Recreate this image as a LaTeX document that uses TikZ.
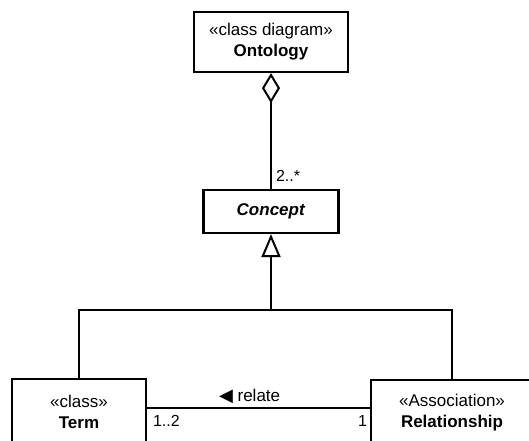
\documentclass[tikz,border=0pt]{standalone}
\usepackage{fontspec}
\setmainfont{Liberation Sans}
\newfontfamily\symfont{DejaVu Sans}
\usetikzlibrary{arrows.meta}

\begin{document}
\begin{tikzpicture}[x=1pt,y=-1pt,line width=2pt,
    classbox/.style={draw,rectangle,line width=2.2pt,align=center,inner sep=0pt,
      font=\fontsize{17}{21}\selectfont},
    mult/.style={font=\fontsize{16}{19}\selectfont,inner sep=2pt}]
  \clip (0,0) rectangle (529,440);
  % classes
  \node[classbox,minimum width=154pt,minimum height=60pt] (onto) at (271,42)
    {«class diagram»\\\textbf{Ontology}};
  \node[classbox,minimum width=135pt,minimum height=43pt] (concept) at (271,211.5)
    {\textbf{\itshape Concept}};
  \node[classbox,minimum width=134pt,minimum height=66pt] (term) at (79,412)
    {«class»\\\textbf{Term}};
  \node[classbox,minimum width=162pt,minimum height=66pt] (rel) at (452,413)
    {«Association»\\\textbf{Relationship}};
  % aggregation of concepts
  \draw[{Diamond[open,length=30pt,width=18pt]}-] (onto.south) -- (concept.north)
    node[mult,pos=1,anchor=south west,xshift=2pt,yshift=4pt] {2..*};
  % generalization tree
  \coordinate (join) at (271,310);
  \draw (term.north) |- (join) -| (rel.north);
  \draw[-{Triangle[open,length=23pt,width=19pt]}] (join) -- (concept.south);
  % association
  \draw ([yshift=4pt]term.east) -- ([yshift=5pt]rel.west)
    node[pos=0.46,above,font=\fontsize{17}{20}\selectfont,inner sep=3pt] {{\symfont\fontsize{18}{20}\selectfont ◀}\ relate}
    node[mult,pos=0,below right,xshift=3pt,yshift=-4pt] {1..2}
    node[mult,pos=1,below left,yshift=-4pt] {1};
\end{tikzpicture}
\end{document}
